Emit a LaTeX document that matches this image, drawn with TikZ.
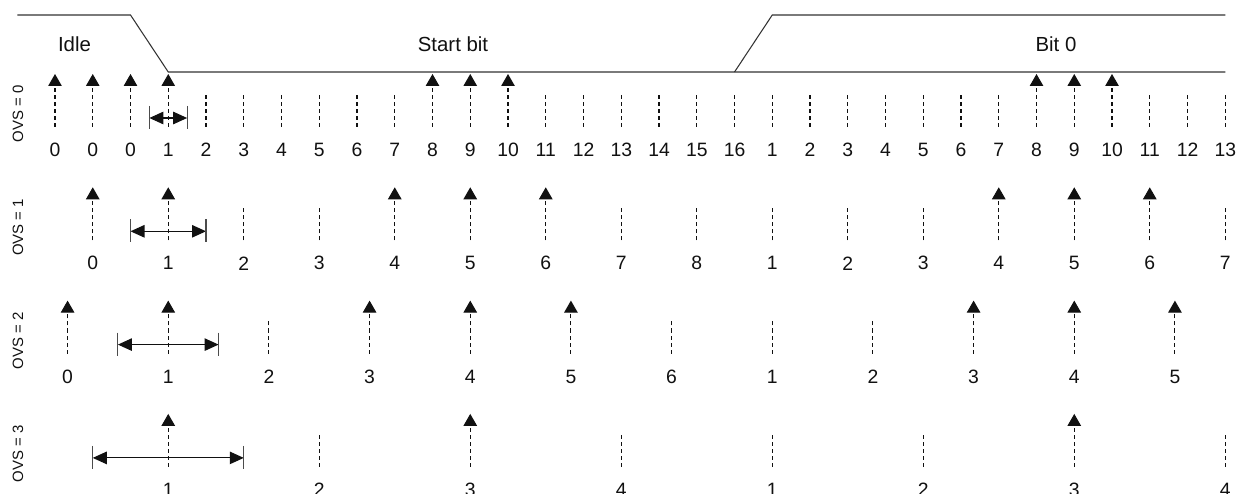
\documentclass[tikz,border=0pt]{standalone}
\usepackage{fontspec}
\setmainfont{Liberation Sans}
\usetikzlibrary{arrows.meta}
\definecolor{paper}{HTML}{FFFFFF}
\definecolor{ink}{HTML}{111111}
\definecolor{wire}{HTML}{333333}
\newcommand{\TickU}{0.755}
\newcommand{\TickX}{1.1}
\newcommand{\RowH}{2.266}
\newcommand{\SigHi}{-0.30}
\newcommand{\SigLo}{-1.44}
\newcommand{\TipY}{-1.48}
\newcommand{\DashTop}{-1.84}
\newcommand{\DashBot}{-2.54}
\newcommand{\NumY}{-3.0}
\newcommand{\SpanY}{-2.36}

\begin{document}
\begin{tikzpicture}[
    font=\fontsize{11}{13}\selectfont, ink,
    wire/.style={draw=wire, line width=0.6pt},
    sample/.style={draw=ink, line width=0.6pt, dash pattern=on 2.3pt off 1.7pt},
    hit0/.style={},
    hit1/.style={-{Triangle[length=0.24cm, width=0.27cm]}},
    span/.style={draw=ink, line width=0.6pt, {Triangle[length=0.28cm, width=0.25cm]}-{Triangle[length=0.28cm, width=0.25cm]}},
    fence/.style={draw=ink!75, line width=0.6pt},
    num/.style={inner sep=0pt},
    phase/.style={inner sep=0pt, font=\fontsize{11.6}{14}\selectfont},
    ovs/.style={inner sep=0pt, rotate=90, font=\fontsize{8.5}{10}\selectfont},
  ]
\useasboundingbox[fill=paper] (0,0) rectangle (24.8,-9.88);

% --- The line itself: idle high, the start bit low, bit 0 high again ---------
\coordinate (idle) at ({\TickX-\TickU}, \SigHi);
\coordinate (fall) at ({\TickX+2*\TickU}, \SigHi);
\coordinate (low) at ({\TickX+3*\TickU}, \SigLo);
\coordinate (rise) at ({\TickX+18*\TickU}, \SigLo);
\coordinate (high) at ({\TickX+19*\TickU}, \SigHi);
\coordinate (endlo) at ({\TickX+31*\TickU}, \SigLo);
\coordinate (endhi) at ({\TickX+31*\TickU}, \SigHi);
\draw[wire] (idle) -- (fall) -- (low) -- (endlo);
\draw[wire] (rise) -- (high) -- (endhi);

\node[phase] (idlelab) at (1.49, -0.88) {Idle};
\node[phase] (startlab) at (9.06, -0.88) {Start bit};
\node[phase] (bitlab) at (21.12, -0.88) {Bit 0};

% --- One row per oversampling setting: label/taken pairs ---------------------
\foreach \r/\first/\pitch/\samples in {
    0/0/1/{0/1, 0/1, 0/1, 1/1, 2/0, 3/0, 4/0, 5/0, 6/0, 7/0, 8/1, 9/1, 10/1, 11/0, 12/0, 13/0, 14/0, 15/0, 16/0, 1/0, 2/0, 3/0, 4/0, 5/0, 6/0, 7/0, 8/1, 9/1, 10/1, 11/0, 12/0, 13/0},
    1/1/2/{0/1, 1/1, 2/0, 3/0, 4/1, 5/1, 6/1, 7/0, 8/0, 1/0, 2/0, 3/0, 4/1, 5/1, 6/1, 7/0},
    2/0.33333/2.66667/{0/1, 1/1, 2/0, 3/1, 4/1, 5/1, 6/0, 1/0, 2/0, 3/1, 4/1, 5/1},
    3/3/4/{1/1, 2/0, 3/1, 4/0, 1/0, 2/0, 3/1, 4/0}} {
  \node[ovs] (ovs\r) at (0.36, -2.28-\r*\RowH) {OVS = \r};
  \foreach \n/\h [count=\j from 0] in \samples {
    \pgfmathsetmacro{\x}{\TickX+(\first+\j*\pitch)*\TickU}
    \pgfmathsetmacro{\yt}{(\h==1 ? \TipY : \DashTop)-\r*\RowH}
    \coordinate (b\r-\j) at (\x, \DashBot-\r*\RowH);
    \coordinate (t\r-\j) at (\x, \yt);
    \draw[sample, hit\h] (b\r-\j) -- (t\r-\j);
    \node[num] (n\r-\j) at (\x, \NumY-\r*\RowH) {\n};
  }
  % one sample period, centred on the first start-bit sample
  \coordinate (w\r) at ({\TickX+(3-\pitch/2)*\TickU}, {\SpanY-\r*\RowH});
  \coordinate (e\r) at ({\TickX+(3+\pitch/2)*\TickU}, {\SpanY-\r*\RowH});
  \draw[span] (w\r) -- (e\r);
  \draw[fence] (w\r) ++(0,0.24) -- ++(0,-0.46);
  \draw[fence] (e\r) ++(0,0.24) -- ++(0,-0.46);
}

\end{tikzpicture}
\end{document}
